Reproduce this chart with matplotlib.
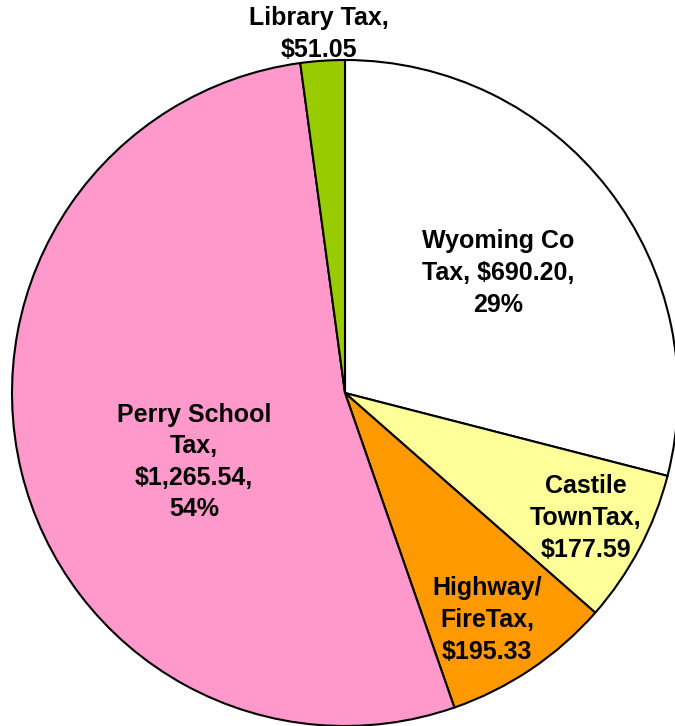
import matplotlib.pyplot as plt

plt.rcParams['font.family'] = ['Liberation Sans', 'DejaVu Sans']

names = ['Wyoming Co Tax', 'Castile TownTax', 'Highway/ FireTax', 'Perry School Tax', 'Library Tax']
amounts = [690.20, 177.59, 195.33, 1265.54, 51.05]
labels = ['Wyoming Co\nTax, $690.20,\n29%',
          'Castile\nTownTax,\n$177.59',
          'Highway/\nFireTax,\n$195.33',
          'Perry School\nTax,\n$1,265.54,\n54%',
          'Library Tax,\n$51.05']
colors = ['#FFFFFF', '#FFFF99', '#FF9900', '#FF99CC', '#99CC00']
# label centres in pixels (x, y from top)
label_px = [(498, 273), (586, 518), (487, 620), (194, 462), (319, 34)]

fig = plt.figure(figsize=(6.75, 7.26), dpi=100)
ax = fig.add_axes([0, 0, 1, 1])

R = 333
cx, cy = 345, 393
ax.pie(amounts, colors=colors, startangle=90, counterclock=False, radius=1,
       wedgeprops=dict(edgecolor='black', linewidth=1.5))

for lab, (px, py) in zip(labels, label_px):
    ax.text((px - cx) / R, (cy - py) / R, lab, ha='center', va='center',
            fontsize=18, fontweight='bold', linespacing=1.4, clip_on=False)

ax.set_xlim(-cx / R, (675 - cx) / R)
ax.set_ylim(-(726 - cy) / R, cy / R)
ax.set_aspect('auto')
ax.axis('off')

fig.savefig('out.png', dpi=100)
